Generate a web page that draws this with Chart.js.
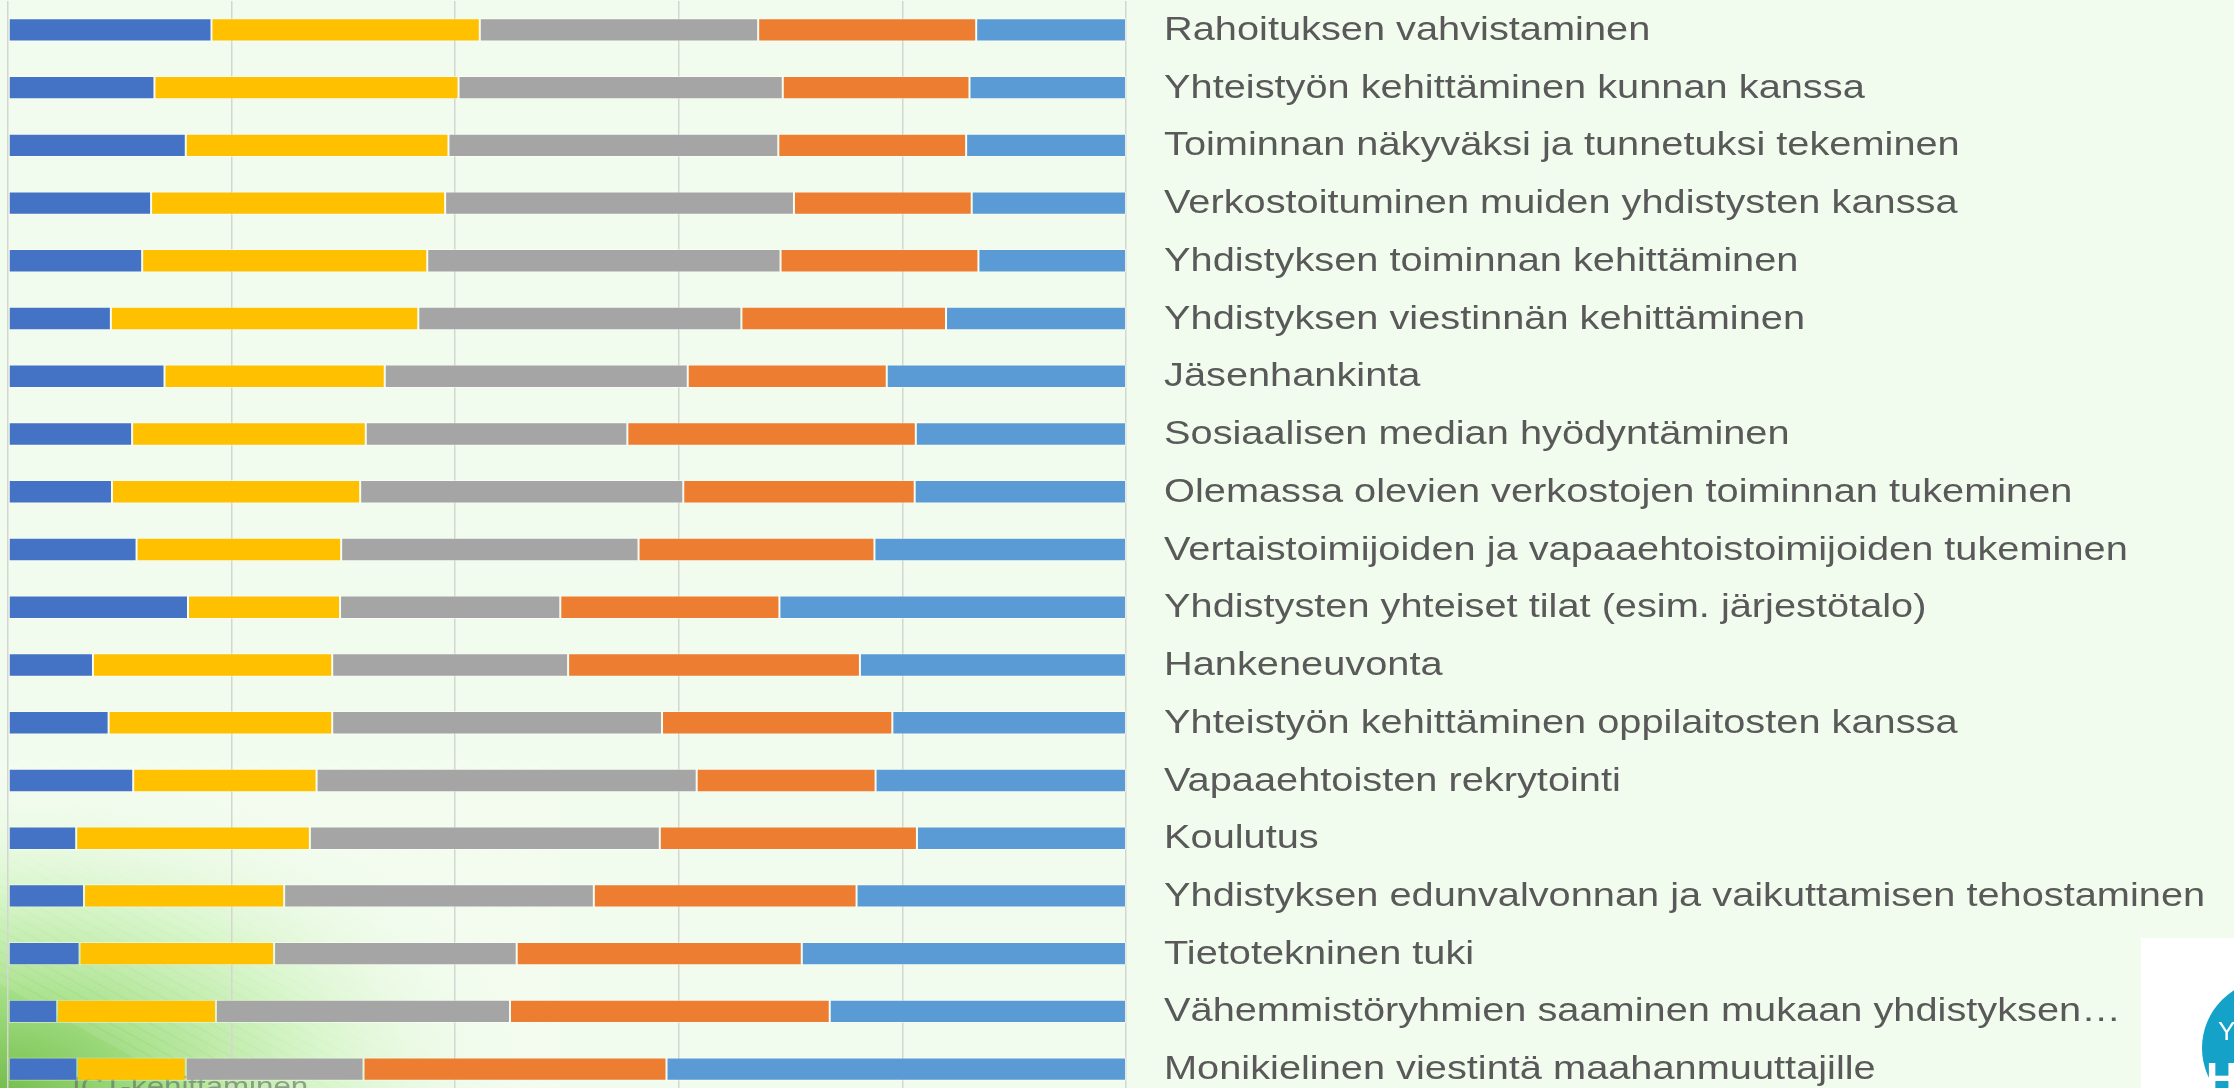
<!DOCTYPE html>
<html lang="fi">
<head>
<meta charset="utf-8">
<title>Kehittämistarpeet</title>
<script src="https://cdn.jsdelivr.net/npm/chart.js@4.4.1/dist/chart.umd.min.js"></script>
<style>
    html, body {
        margin: 0;
        padding: 0;
        width: 2234px;
        height: 1088px;
        overflow: hidden;
        background: #f2fcee;
    }
    #chart-wrap {
        position: relative;
        width: 2234px;
        height: 1098px;
    }
</style>
</head>
<body>
<div id="chart-wrap">
    <canvas id="zone-chart"></canvas>
</div>
<script>
// Категории (подписи справа)
var categories = [
    'Rahoituksen vahvistaminen',
    'Yhteistyön kehittäminen kunnan kanssa',
    'Toiminnan näkyväksi ja tunnetuksi tekeminen',
    'Verkostoituminen muiden yhdistysten kanssa',
    'Yhdistyksen toiminnan kehittäminen',
    'Yhdistyksen viestinnän kehittäminen',
    'Jäsenhankinta',
    'Sosiaalisen median hyödyntäminen',
    'Olemassa olevien verkostojen toiminnan tukeminen',
    'Vertaistoimijoiden ja vapaaehtoistoimijoiden tukeminen',
    'Yhdistysten yhteiset tilat (esim. järjestötalo)',
    'Hankeneuvonta',
    'Yhteistyön kehittäminen oppilaitosten kanssa',
    'Vapaaehtoisten rekrytointi',
    'Koulutus',
    'Yhdistyksen edunvalvonnan ja vaikuttamisen tehostaminen',
    'Tietotekninen tuki',
    'Vähemmistöryhmien saaminen mukaan yhdistyksen…',
    'Monikielinen viestintä maahanmuuttajille'
];

// Доли ответов, %
var sarja1 = [18.2, 13.1, 15.9, 12.8, 12.0, 9.2, 14.0, 11.1, 9.3, 11.5, 16.1, 7.6, 9.0, 11.2, 6.1, 6.8, 6.4, 4.4, 6.2];
var sarja2 = [24.0, 27.2, 23.5, 26.3, 25.5, 27.5, 19.7, 20.9, 22.2, 18.3, 13.6, 21.4, 20.0, 16.4, 20.9, 17.9, 17.4, 14.2, 9.7];
var sarja3 = [24.9, 29.0, 29.5, 31.2, 31.6, 28.9, 27.1, 23.4, 28.9, 26.6, 19.7, 21.1, 29.5, 34.0, 31.3, 27.7, 21.7, 26.3, 15.9];
var sarja4 = [19.5, 16.7, 16.8, 15.9, 17.7, 18.3, 17.8, 25.8, 20.7, 21.1, 19.6, 26.1, 20.6, 16.0, 23.0, 23.5, 25.5, 28.6, 27.1];
var sarja5 = [13.4, 14.0, 14.3, 13.8, 13.2, 16.1, 21.4, 18.8, 18.9, 22.5, 31.0, 23.8, 20.9, 22.4, 18.7, 24.1, 29.0, 26.5, 41.1];

var seriesNames = ['Sarja1', 'Sarja2', 'Sarja3', 'Sarja4', 'Sarja5'];
var seriesColors = ['#4472C4', '#FFC000', '#A5A5A5', '#ED7D31', '#5B9BD5'];

// Тики оси X (сетка через 20 %)
var xTicks = [0, 20, 40, 60, 80, 100];

// Шрифт подписей (в оригинале текст немного растянут по горизонтали)
var labelFont = '33px "Liberation Sans", Arial, sans-serif';
var labelStretch = 1.205;

// Фон слайда: светло-зелёный с зелёным углом слева внизу
var backgroundPlugin = {
    id: 'slideBackground',
    beforeDraw: function(chart) {
        var ctx = chart.ctx;
        var w = chart.width;
        var h = 1088;
        ctx.save();
        ctx.fillStyle = '#f2fcee';
        ctx.fillRect(0, 0, w, chart.height);

        // зелёный угол
        ctx.save();
        ctx.translate(0, h);
        ctx.scale(1, 0.6);
        var g = ctx.createRadialGradient(0, 0, 0, 0, 0, 540);
        g.addColorStop(0, 'rgba(118,190,78,1)');
        g.addColorStop(0.3, 'rgba(160,222,128,0.95)');
        g.addColorStop(0.6, 'rgba(205,243,188,0.8)');
        g.addColorStop(1, 'rgba(242,252,238,0)');
        ctx.fillStyle = g;
        ctx.beginPath();
        ctx.arc(0, 0, 540, 0, Math.PI * 2);
        ctx.fill();
        ctx.restore();

        // диагональные полосы
        ctx.beginPath();
        ctx.rect(0, 760, 560, 340);
        ctx.clip();
        ctx.strokeStyle = 'rgba(255,255,255,0.10)';
        ctx.lineWidth = 8;
        for (var s = -400; s < 700; s += 20) {
            ctx.beginPath();
            ctx.moveTo(s, 760);
            ctx.lineTo(s + 620, 1100);
            ctx.stroke();
        }
        ctx.restore();
    },
    beforeDatasetsDraw: function(chart) {
        // обрезанная подпись под последней полосой
        var ctx = chart.ctx;
        ctx.save();
        ctx.translate(72, 1095);
        ctx.scale(1.25, 1);
        ctx.font = '25px "Liberation Sans", Arial, sans-serif';
        ctx.fillStyle = 'rgba(95,105,95,0.6)';
        ctx.textBaseline = 'alphabetic';
        ctx.textAlign = 'left';
        ctx.fillText('ICT-kehittäminen', 0, 0);
        ctx.restore();
    },
    afterDatasetsDraw: function(chart) {
        // подписи категорий справа от графика
        var ctx = chart.ctx;
        var yScale = chart.scales.y;
        var x0 = chart.chartArea.right + 38;
        ctx.save();
        ctx.font = labelFont;
        ctx.fillStyle = '#595959';
        ctx.textBaseline = 'middle';
        ctx.textAlign = 'left';
        for (var i = 0; i < categories.length; i++) {
            var y = yScale.getPixelForTick(i);
            ctx.save();
            ctx.translate(x0, y + 1);
            ctx.scale(labelStretch, 1);
            ctx.fillText(categories[i], 0, 0);
            ctx.restore();
        }
        ctx.restore();
    },
    afterDraw: function(chart) {
        // логотип в правом нижнем углу
        var ctx = chart.ctx;
        ctx.save();
        ctx.fillStyle = '#ffffff';
        ctx.fillRect(2141, 938, 100, 160);
        ctx.beginPath();
        ctx.rect(2141, 938, 93, 150);
        ctx.clip();
        ctx.fillStyle = '#14a2c8';
        ctx.beginPath();
        ctx.arc(2270, 1048, 68, 0, Math.PI * 2);
        ctx.fill();
        ctx.fillStyle = '#ffffff';
        ctx.textBaseline = 'alphabetic';
        ctx.font = '26px "Liberation Sans", Arial, sans-serif';
        ctx.fillText('Y', 2218, 1040);
        ctx.font = 'bold 44px "Liberation Sans", Arial, sans-serif';
        ctx.fillText('HU', 2206, 1094);
        ctx.restore();
    }
};

function createZoneChart() {
    var canvas = document.getElementById('zone-chart');
    if (!canvas) {
        console.error('Canvas не найден');
        return;
    }
    if (typeof Chart === 'undefined') {
        console.error('Chart.js не загружен');
        return;
    }

    var values = [sarja1, sarja2, sarja3, sarja4, sarja5];
    var datasets = [];
    for (var i = 0; i < values.length; i++) {
        datasets.push({
            label: seriesNames[i],
            data: values[i],
            backgroundColor: seriesColors[i],
            borderColor: 'rgba(255,255,255,0.45)',
            borderWidth: 1,
            borderSkipped: false,
            barPercentage: 0.405,
            categoryPercentage: 1
        });
    }

    var options = {
        indexAxis: 'y',
        responsive: true,
        maintainAspectRatio: false,
        animation: false,
        layout: {
            padding: { left: 8, right: 0, top: 1, bottom: 0 }
        },
        plugins: {
            legend: { display: false },
            tooltip: { enabled: false },
            title: { display: false }
        },
        scales: {
            x: {
                stacked: true,
                min: 0,
                max: 100,
                afterBuildTicks: function(scale) {
                    scale.ticks = xTicks.map(function(v) { return { value: v }; });
                },
                afterFit: function(scale) {
                    scale.height = 0;
                    scale.paddingLeft = 0;
                    scale.paddingRight = 0;
                },
                ticks: { display: false },
                border: { display: false },
                grid: {
                    color: '#d3d6d3',
                    lineWidth: 1.5,
                    drawTicks: false
                }
            },
            y: {
                stacked: true,
                position: 'right',
                afterFit: function(scale) {
                    // фиксированная ширина области подписей
                    scale.width = 2234 - 1126;
                    scale.paddingTop = 0;
                    scale.paddingBottom = 0;
                },
                grid: { display: false, drawTicks: false },
                border: { display: false },
                ticks: { display: false, autoSkip: false }
            }
        }
    };

    try {
        new Chart(canvas, {
            type: 'bar',
            data: { labels: categories, datasets: datasets },
            options: options,
            plugins: [backgroundPlugin]
        });
    } catch (error) {
        console.error('Ошибка при создании графика:', error);
    }
}

document.addEventListener('DOMContentLoaded', function() {
    createZoneChart();
});
</script>
</body>
</html>
